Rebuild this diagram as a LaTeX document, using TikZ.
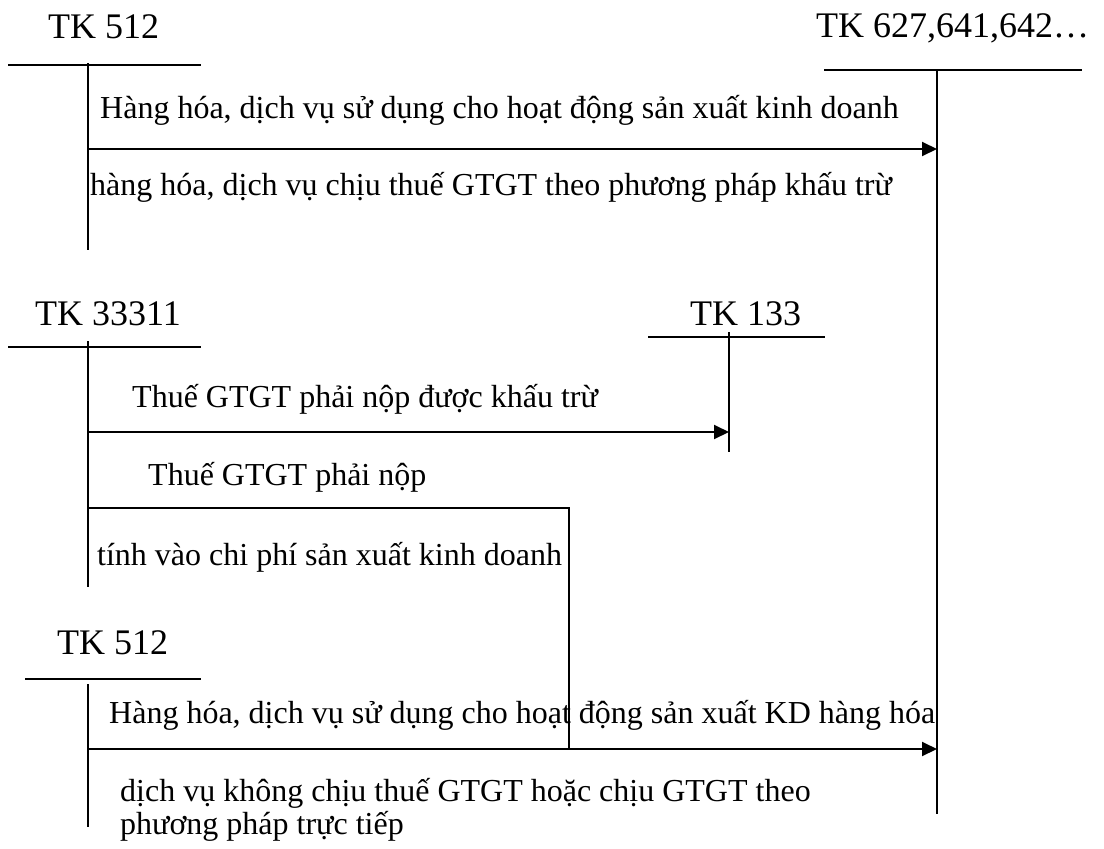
\documentclass[tikz,border=0pt]{standalone}
\usepackage{fontspec}
\setmainfont{Liberation Serif}
\usetikzlibrary{arrows.meta}
\begin{document}
\begin{tikzpicture}[x=1pt,y=-1pt,
  acct/.style={font=\fontsize{36}{40}\selectfont,inner sep=0pt,anchor=base west},
  txt/.style={font=\fontsize{32}{36}\selectfont,inner sep=0pt,anchor=base west},
  ln/.style={line width=2pt},
  thin/.style={line width=1.6pt},
  arr/.style={line width=2pt,-{Triangle[length=15pt,width=14pt]}}]
\useasboundingbox (0,0) rectangle (1104,849);
% ---- top ----
\node[acct] (tkA) at (48,38) {TK 512};
\coordinate (a1) at (8,65); \coordinate (a2) at (201,65);
\coordinate (a3) at (88,63); \coordinate (a4) at (88,250);
\draw[ln] (a1) -- (a2); \draw[ln] (a3) -- (a4);
\node[acct] (tkR) at (816,37) {TK 627,641,642…};
\coordinate (r1) at (824,70); \coordinate (r2) at (1082,70);
\coordinate (r3) at (937,70); \coordinate (r4) at (937,814);
\draw[ln] (r1) -- (r2); \draw[ln] (r3) -- (r4);
\coordinate (s1) at (88,149); \coordinate (e1) at (937,149);
\draw[arr] (s1) -- (e1);
\node[txt] (t1) at (100,118) {Hàng hóa, dịch vụ sử dụng cho hoạt động sản xuất kinh doanh};
\node[txt] (t2) at (90,195) {hàng hóa, dịch vụ chịu thuế GTGT theo phương pháp khấu trừ};
% ---- middle ----
\node[acct] (tkB) at (35,325) {TK 33311};
\coordinate (b1) at (8,347); \coordinate (b2) at (201,347);
\coordinate (b3) at (88,341); \coordinate (b4) at (88,587);
\draw[ln] (b1) -- (b2); \draw[ln] (b3) -- (b4);
\node[acct] (tkC) at (690,325) {TK 133};
\coordinate (c1) at (648,337); \coordinate (c2) at (825,337);
\coordinate (c3) at (729,332); \coordinate (c4) at (729,452);
\draw[ln] (c1) -- (c2); \draw[ln] (c3) -- (c4);
\coordinate (s2) at (88,432); \coordinate (e2) at (729,432);
\draw[arr] (s2) -- (e2);
\node[txt] (t3) at (132,407) {Thuế GTGT phải nộp được khấu trừ};
\node[txt] (t4) at (148,485) {Thuế GTGT phải nộp};
\node[txt] (t5) at (97,565) {tính vào chi phí sản xuất kinh doanh};
\coordinate (k1) at (88,508); \coordinate (k2) at (569,508); \coordinate (k3) at (569,749);
\draw[thin] (k1) -- (k2) -- (k3);
% ---- bottom ----
\node[acct] (tkD) at (57,654) {TK 512};
\coordinate (d1) at (25,679); \coordinate (d2) at (201,679);
\coordinate (d3) at (88,684); \coordinate (d4) at (88,827);
\draw[ln] (d1) -- (d2); \draw[ln] (d3) -- (d4);
\coordinate (s3) at (88,749); \coordinate (e3) at (937,749);
\draw[arr] (s3) -- (e3);
\node[txt] (t6) at (109,723) {Hàng hóa, dịch vụ sử dụng cho hoạt động sản xuất KD hàng hóa};
\node[txt] (t7) at (120,801) {dịch vụ không chịu thuế GTGT hoặc chịu GTGT theo};
\node[txt] (t8) at (120,834) {phương pháp trực tiếp};
\end{tikzpicture}
\end{document}
